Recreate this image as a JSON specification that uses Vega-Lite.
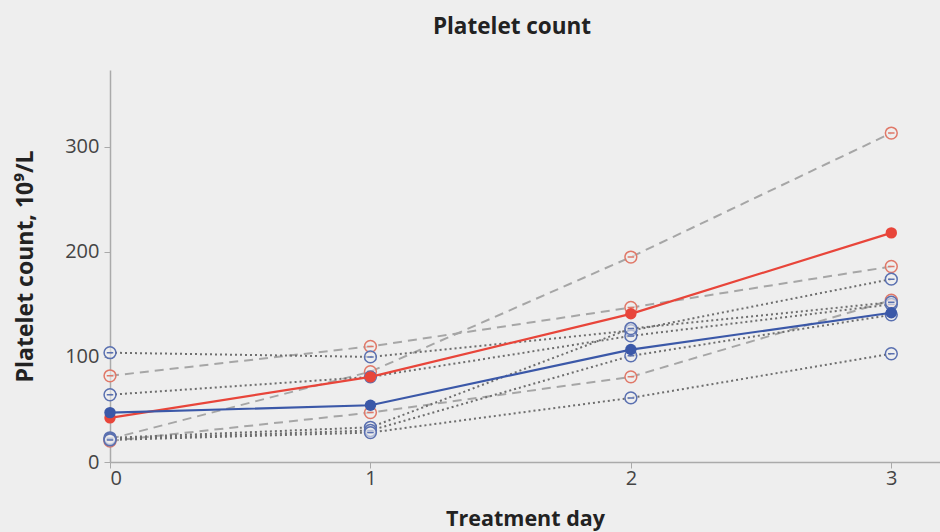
{
  "$schema": "https://vega.github.io/schema/vega-lite/v6.json",
  "width": 830,
  "height": 392,
  "autosize": "none",
  "padding": {"left": 110, "top": 70, "right": 0, "bottom": 70},
  "background": "#eeeeee",
  "config": {
    "view": {"stroke": null},
    "font": "Open Sans",
    "axis": {"grid": false, "domainColor": "#aaaaaa", "domainWidth": 1.5, "tickColor": "#aaaaaa", "tickWidth": 1, "labelColor": "#444444", "labelFontSize": 20, "titleColor": "#222222", "titleFontSize": 21.5, "titleFontWeight": "bold", "labelFont": "Open Sans", "titleFont": "Open Sans"}
  },
  "title": {"text": "Platelet count", "fontSize": 22.5, "fontWeight": "bold", "color": "#222222", "font": "Open Sans", "offset": 32, "dx": -13},
  "data": {"values": [
    {"id": "R1", "group": "red", "kind": "ind", "day": 0, "value": 82},
    {"id": "R1", "group": "red", "kind": "ind", "day": 1, "value": 110},
    {"id": "R1", "group": "red", "kind": "ind", "day": 2, "value": 147},
    {"id": "R1", "group": "red", "kind": "ind", "day": 3, "value": 186},
    {"id": "R2", "group": "red", "kind": "ind", "day": 0, "value": 22},
    {"id": "R2", "group": "red", "kind": "ind", "day": 1, "value": 86},
    {"id": "R2", "group": "red", "kind": "ind", "day": 2, "value": 195},
    {"id": "R2", "group": "red", "kind": "ind", "day": 3, "value": 313},
    {"id": "R3", "group": "red", "kind": "ind", "day": 0, "value": 20},
    {"id": "R3", "group": "red", "kind": "ind", "day": 1, "value": 47},
    {"id": "R3", "group": "red", "kind": "ind", "day": 2, "value": 81},
    {"id": "R3", "group": "red", "kind": "ind", "day": 3, "value": 154},
    {"id": "B1", "group": "blue", "kind": "ind", "day": 0, "value": 104},
    {"id": "B1", "group": "blue", "kind": "ind", "day": 1, "value": 100},
    {"id": "B1", "group": "blue", "kind": "ind", "day": 2, "value": 125},
    {"id": "B1", "group": "blue", "kind": "ind", "day": 3, "value": 174},
    {"id": "B2", "group": "blue", "kind": "ind", "day": 0, "value": 64},
    {"id": "B2", "group": "blue", "kind": "ind", "day": 1, "value": 81},
    {"id": "B2", "group": "blue", "kind": "ind", "day": 2, "value": 120},
    {"id": "B2", "group": "blue", "kind": "ind", "day": 3, "value": 150},
    {"id": "B3", "group": "blue", "kind": "ind", "day": 0, "value": 23},
    {"id": "B3", "group": "blue", "kind": "ind", "day": 1, "value": 33},
    {"id": "B3", "group": "blue", "kind": "ind", "day": 2, "value": 127},
    {"id": "B3", "group": "blue", "kind": "ind", "day": 3, "value": 152},
    {"id": "B4", "group": "blue", "kind": "ind", "day": 0, "value": 22},
    {"id": "B4", "group": "blue", "kind": "ind", "day": 1, "value": 30},
    {"id": "B4", "group": "blue", "kind": "ind", "day": 2, "value": 101},
    {"id": "B4", "group": "blue", "kind": "ind", "day": 3, "value": 140},
    {"id": "B5", "group": "blue", "kind": "ind", "day": 0, "value": 21},
    {"id": "B5", "group": "blue", "kind": "ind", "day": 1, "value": 28},
    {"id": "B5", "group": "blue", "kind": "ind", "day": 2, "value": 61},
    {"id": "B5", "group": "blue", "kind": "ind", "day": 3, "value": 103},
    {"id": "RM", "group": "red", "kind": "mean", "day": 0, "value": 42},
    {"id": "RM", "group": "red", "kind": "mean", "day": 1, "value": 81},
    {"id": "RM", "group": "red", "kind": "mean", "day": 2, "value": 141},
    {"id": "RM", "group": "red", "kind": "mean", "day": 3, "value": 218},
    {"id": "BM", "group": "blue", "kind": "mean", "day": 0, "value": 47},
    {"id": "BM", "group": "blue", "kind": "mean", "day": 1, "value": 54},
    {"id": "BM", "group": "blue", "kind": "mean", "day": 2, "value": 107},
    {"id": "BM", "group": "blue", "kind": "mean", "day": 3, "value": 142}
  ]},
  "encoding": {
    "x": {"field": "day", "type": "quantitative", "scale": {"domain": [0, 3.187], "nice": false, "zero": false},
      "axis": {"values": [0, 1, 2, 3], "format": "d", "title": "Treatment day", "tickSize": 6, "labelPadding": 0, "titlePadding": 20}},
    "y": {"field": "value", "type": "quantitative", "scale": {"domain": [0, 373], "nice": false},
      "axis": {"values": [0, 100, 200, 300], "title": "Platelet count, 10⁹/L", "titleFontSize": 23, "tickSize": 6, "labelPadding": 5, "titlePadding": 27}}
  },
  "layer": [
    {
      "transform": [{"filter": "datum.kind == 'ind' && datum.group == 'red'"}],
      "mark": {"type": "line", "color": "#a6a6a6", "strokeWidth": 2, "strokeDash": [9, 6]},
      "encoding": {"detail": {"field": "id"}}
    },
    {
      "transform": [{"filter": "datum.kind == 'ind' && datum.group == 'blue'"}],
      "mark": {"type": "line", "color": "#6e6e6e", "strokeWidth": 2, "strokeDash": [2, 3]},
      "encoding": {"detail": {"field": "id"}}
    },
    {
      "transform": [{"filter": "datum.kind == 'ind'"}],
      "mark": {"type": "point", "shape": "M-1,0A1,1 0 1,1 1,0A1,1 0 1,1 -1,0M-0.55,0L0.55,0", "filled": false, "size": 140, "strokeWidth": 1.5, "fill": "#eeeeee", "fillOpacity": 0.6},
      "encoding": {
        "stroke": {"field": "group", "type": "nominal", "scale": {"domain": ["red", "blue"], "range": ["#e07868", "#5a70b0"]}, "legend": null}
      }
    },
    {
      "transform": [{"filter": "datum.kind == 'mean'"}],
      "mark": {"type": "line", "strokeWidth": 2.2},
      "encoding": {
        "detail": {"field": "id"},
        "color": {"field": "group", "type": "nominal", "scale": {"domain": ["red", "blue"], "range": ["#e8453a", "#3b58a8"]}, "legend": null}
      }
    },
    {
      "transform": [{"filter": "datum.kind == 'mean'"}],
      "mark": {"type": "circle", "size": 130, "opacity": 1},
      "encoding": {
        "color": {"field": "group", "type": "nominal", "scale": {"domain": ["red", "blue"], "range": ["#e8453a", "#3b58a8"]}, "legend": null}
      }
    }
  ]
}
